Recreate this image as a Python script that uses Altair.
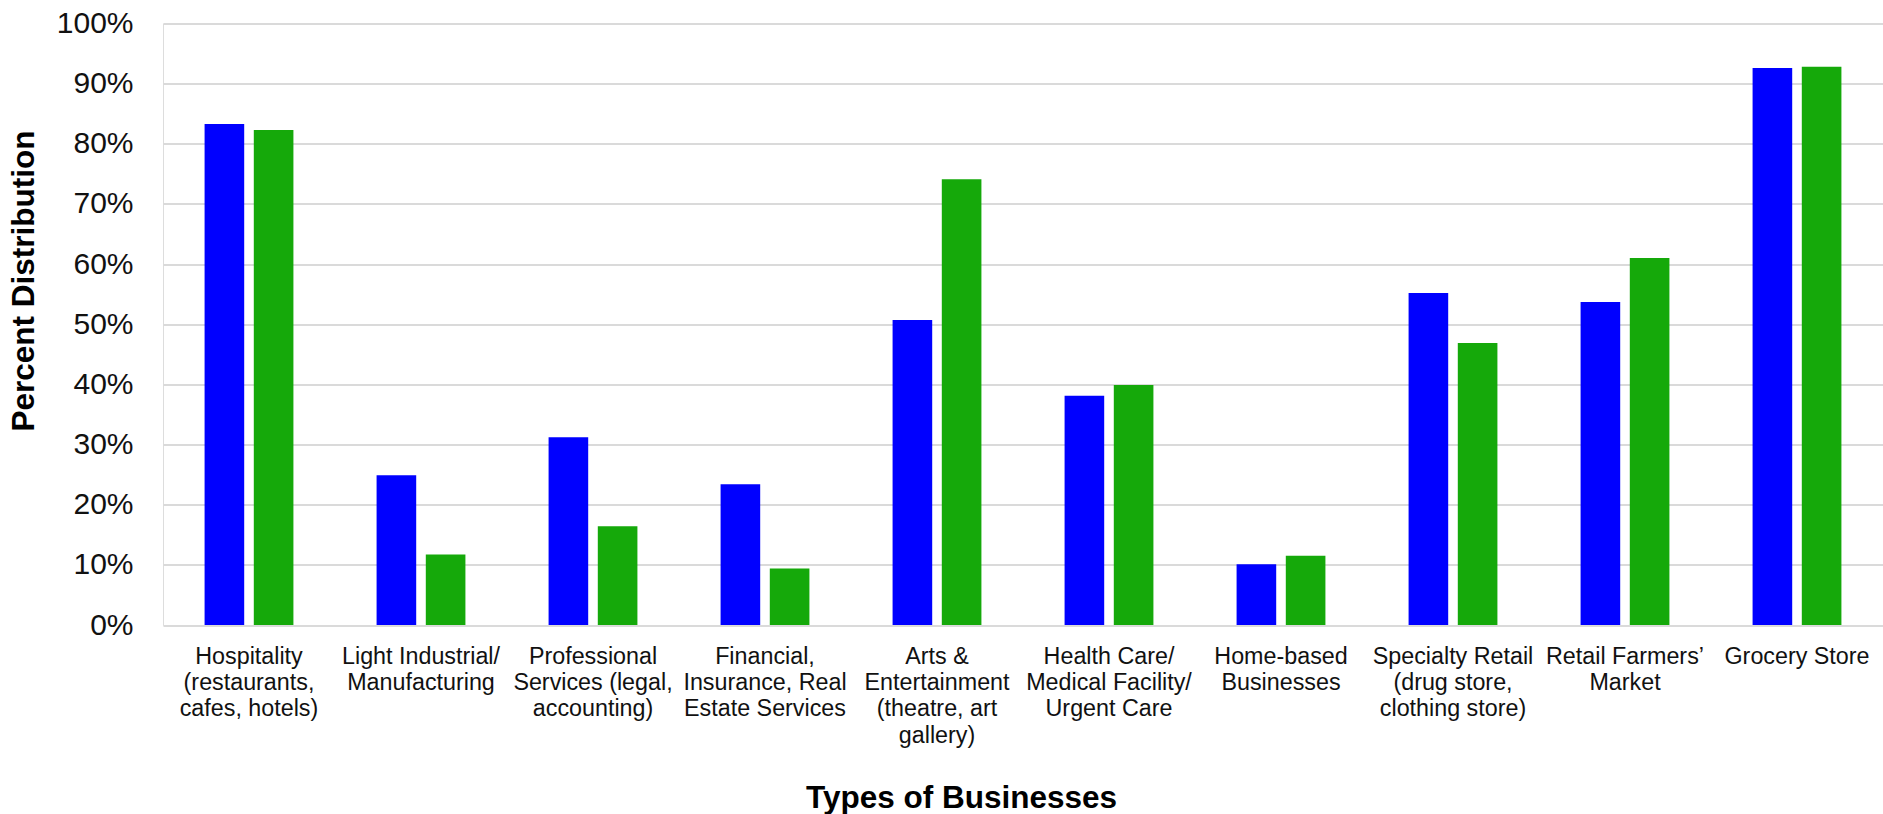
import altair as alt
import pandas as pd

categories = [
    "Hospitality|(restaurants,|cafes, hotels)",
    "Light Industrial/|Manufacturing",
    "Professional|Services (legal,|accounting)",
    "Financial,|Insurance, Real|Estate Services",
    "Arts &|Entertainment|(theatre, art|gallery)",
    "Health Care/|Medical Facility/|Urgent Care",
    "Home-based|Businesses",
    "Specialty Retail|(drug store,|clothing store)",
    "Retail Farmers’|Market",
    "Grocery Store",
]
series_names = ["Series 1", "Series 2"]
series1 = [0.833, 0.249, 0.312, 0.234, 0.507, 0.381, 0.101, 0.552, 0.537, 0.926]
series2 = [0.823, 0.117, 0.164, 0.094, 0.741, 0.399, 0.115, 0.469, 0.610, 0.928]
y_ticks = [0.0, 0.1, 0.2, 0.3, 0.4, 0.5, 0.6, 0.7, 0.8, 0.9, 1.0]
colors = ["#0000ff", "#15a90a"]

rows = []
for c, a, b in zip(categories, series1, series2):
    rows.append({"cat": c, "series": series_names[0], "value": a})
    rows.append({"cat": c, "series": series_names[1], "value": b})
df = pd.DataFrame(rows)

FONT = "Liberation Sans"

chart = alt.Chart(df).mark_bar().encode(
    x=alt.X(
        "cat:N",
        sort=categories,
        scale=alt.Scale(paddingInner=0, paddingOuter=0),
        axis=alt.Axis(
            title="Types of Businesses",
            labelExpr="split(datum.label, '|')",
            labelAngle=0,
            labelFont=FONT,
            labelFontSize=23.3,
            labelLineHeight=26.4,
            labelColor="#111111",
            labelPadding=20,
            labelLimit=0,
            labelBaseline="top",
            ticks=False,
            tickSize=0,
            domain=False,
            grid=False,
            titleFont=FONT,
            titleFontSize=31.5,
            titleFontWeight="bold",
            titleColor="#000000",
            titleX=798,
            titleY=182,
            titleAlign="center",
            titleBaseline="alphabetic",
        ),
    ),
    xOffset=alt.XOffset(
        "series:N",
        sort=series_names,
        scale=alt.Scale(paddingInner=0.195, paddingOuter=0.845),
    ),
    y=alt.Y(
        "value:Q",
        scale=alt.Scale(domain=[0, 1], nice=False),
        axis=alt.Axis(
            title="Percent Distribution",
            values=y_ticks,
            format=".0%",
            labelFont=FONT,
            labelFontSize=30,
            labelColor="#111111",
            labelPadding=30,
            ticks=False,
            tickSize=0,
            domain=False,
            grid=True,
            gridColor="#dadada",
            gridWidth=2,
            titleFont=FONT,
            titleFontSize=31.5,
            titleFontWeight="bold",
            titleColor="#000000",
            titleAngle=270,
            titleX=-130,
            titleY=257,
            titleAlign="center",
            titleBaseline="alphabetic",
        ),
    ),
    color=alt.Color(
        "series:N",
        sort=series_names,
        scale=alt.Scale(domain=series_names, range=colors),
        legend=None,
    ),
).properties(
    width=1720,
    height=601.5,
    autosize=alt.AutoSizeParams(type="none"),
    padding={"left": 163, "top": 23.5, "right": 0, "bottom": 189.5},
).configure_view(stroke=None).configure(background="white")

chart.save("out.html", embed_options={"renderer": "svg", "actions": False})
